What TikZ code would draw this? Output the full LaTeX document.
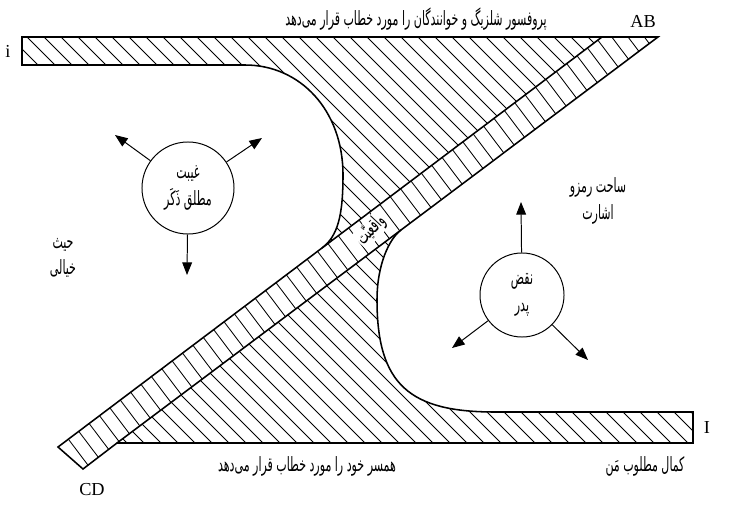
\documentclass[tikz,border=0pt]{standalone}
\usepackage{fontspec}
\setmainfont{Liberation Serif}
\newfontfamily\farsi[Script=Arabic, FakeStretch=0.56]{DejaVu Sans}
\TeXXeTstate=1
\usetikzlibrary{arrows.meta}

\tikzset{
  outline/.style={line width=1.1pt, line join=miter},
  hatch/.style={line width=0.6pt},
  bubble/.style={draw, circle, line width=0.7pt, inner sep=0pt, align=center,
                 font=\farsi\fontsize{14}{19}\selectfont},
  push/.style={-{Triangle[length=9pt,width=7pt]}, line width=0.7pt},
  fatext/.style={font=\farsi\fontsize{14}{19}\selectfont, align=center, inner sep=1pt},
  latin/.style={font=\fontsize{13}{15}\selectfont, inner sep=0pt}
}

\begin{document}
\begin{tikzpicture}[x=0.025cm, y=-0.025cm]
  \useasboundingbox (0,0) rectangle (742,505);

  % corner points of the Z and of the band
  \coordinate (tl) at (22,37);
  \coordinate (bl) at (22,65);
  \coordinate (p1) at (602,37);
  \coordinate (p2) at (658,37);
  \coordinate (q1) at (322,248);
  \coordinate (q2) at (401,230);
  \coordinate (r1) at (117,443);
  \coordinate (r2) at (83,469);
  \coordinate (cd) at (58,447);
  \coordinate (br1) at (693,412);
  \coordinate (br2) at (693,443);

  % upper piece
  \begin{scope}
    \clip (tl) -- (p1) -- (q1) .. controls (338,236) and (343,215) .. (343,175)
      .. controls (343,110) and (300,65) .. (245,65) -- (bl) -- cycle;
    \foreach \c in {-520,-503,...,700}
      \draw[hatch] (\c,0) -- ++(505,505);
  \end{scope}
  % lower piece
  \begin{scope}
    \clip (q2) .. controls (389,239) and (377,265) .. (377,300)
      .. controls (377,385) and (410,412) .. (495,412) -- (br1) -- (br2) -- (r1) -- cycle;
    \foreach \c in {-520,-503,...,700}
      \draw[hatch] (\c,0) -- ++(505,505);
  \end{scope}
  % band
  \begin{scope}
    \clip (cd) -- (p1) -- (p2) -- (r2) -- cycle;
    \foreach \s in {0,13,...,730}
      \draw[hatch] ({58+0.8*\s-40},{447-0.6*\s-53}) -- ++(80,106);
  \end{scope}

  \draw[outline] (tl) -- (p2) -- (q2) .. controls (389,239) and (377,265) .. (377,300)
    .. controls (377,385) and (410,412) .. (495,412) -- (br1) -- (br2) -- (r1) -- (r2)
    -- (cd) -- (q1) .. controls (338,236) and (343,215) .. (343,175)
    .. controls (343,110) and (300,65) .. (245,65) -- (bl) -- cycle;
  \draw[outline] (p1) -- (q1);
  \draw[outline] (q2) -- (r1);

  % circles with arrows
  \node[bubble, minimum size=2.3cm] (ghaybat) at (188,188)
    {\beginR غیبت\endR\\\beginR مطلق ذَکَر\endR};
  \node[bubble, minimum size=2.1cm] (naqz) at (522,295)
    {\beginR نقض\endR\\\beginR پدر\endR};
  \coordinate (g1) at (115,135);
  \coordinate (g2) at (262,138);
  \coordinate (g3) at (187,275);
  \coordinate (n1) at (521,202);
  \coordinate (n2) at (452,348);
  \coordinate (n3) at (588,360);
  \draw[push] (ghaybat) -- (g1);
  \draw[push] (ghaybat) -- (g2);
  \draw[push] (ghaybat) -- (g3);
  \draw[push] (naqz) -- (n1);
  \draw[push] (naqz) -- (n2);
  \draw[push] (naqz) -- (n3);

  % texts
  \node[fatext] (shelzig) at (416,19)
    {\beginR پروفسور شلزیگ و خوانندگان را مورد خطاب قرار می‌دهد\endR};
  \node[fatext] (hamsar) at (307,466)
    {\beginR همسر خود را مورد خطاب قرار می‌دهد\endR};
  \node[fatext] (kamal) at (645,466) {\beginR کمال مطلوب مَن\endR};
  \node[fatext] (sahat) at (598,201) {\beginR ساحت رمزو\endR\\\beginR اشارت\endR};
  \node[fatext] (heys) at (63,258) {\beginR حیث\endR\\\beginR خیالی\endR};
  \node[fatext, rotate=47, fill=white, inner sep=0.5pt] (vaqeiat) at (371,230)
    {\beginR واقعیّت\endR};
  \node[latin] (ab) at (643,21) {AB};
  \node[latin] (cdl) at (92,490) {CD};
  \node[latin] (isml) at (8,51) {i};
  \node[latin] (ibig) at (707,428) {I};
\end{tikzpicture}
\end{document}
